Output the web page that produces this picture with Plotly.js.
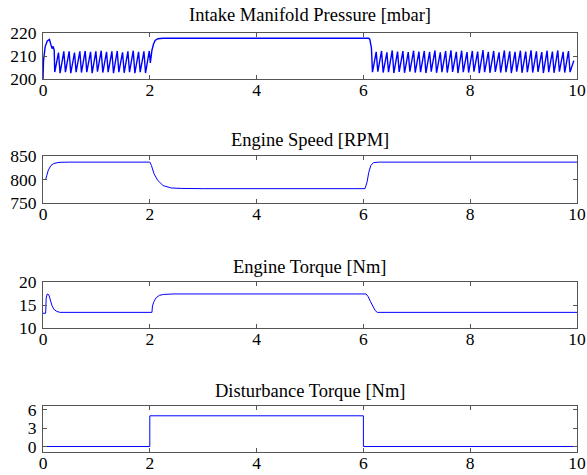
<!DOCTYPE html>
<html>
<head>
<meta charset="utf-8">
<script src="https://cdn.plot.ly/plotly-3.0.1.min.js"></script>
<style>html,body{margin:0;padding:0;background:#fff;}#chart{width:587px;height:475px;}</style>
</head>
<body>
<div id="chart"></div>
<script>
// ---- Data ----
const titles = ["Intake Manifold Pressure [mbar]", "Engine Speed [RPM]", "Engine Torque [Nm]", "Disturbance Torque [Nm]"];
const xTicks = [0, 2, 4, 6, 8, 10];
const pressTicks = [200, 210, 220];
const speedTicks = [750, 800, 850];
const torqueTicks = [10, 15, 20];
const distTicks = [0, 3, 6];

const pressT = [
  0, 0.01, 0.04, 0.08, 0.12, 0.14, 0.17, 0.19, 0.21,
  0.22, 0.29, 0.32, 0.39, 0.42, 0.49, 0.52, 0.59, 0.62, 0.69, 0.72, 0.79, 0.82, 0.89, 0.92, 0.99,
  1.02, 1.09, 1.12, 1.19, 1.22, 1.29, 1.32, 1.39, 1.42, 1.49, 1.52, 1.59, 1.62, 1.69, 1.72, 1.79,
  1.82, 1.89, 1.92, 1.99,
  2.01, 2.04, 2.07, 2.10, 2.15, 2.25, 4.0, 6.10, 6.12, 6.13, 6.15, 6.17,
  6.24, 6.27, 6.34, 6.37, 6.44, 6.47, 6.54, 6.57, 6.64, 6.67, 6.74, 6.77, 6.84, 6.87, 6.94, 6.97,
  7.04, 7.07, 7.14, 7.17, 7.24, 7.27, 7.34, 7.37, 7.44, 7.47, 7.54, 7.57, 7.64, 7.67, 7.74, 7.77,
  7.84, 7.87, 7.94, 7.97, 8.04, 8.07, 8.14, 8.17, 8.24, 8.27, 8.34, 8.37, 8.44, 8.47, 8.54, 8.57,
  8.64, 8.67, 8.74, 8.77, 8.84, 8.87, 8.94, 8.97, 9.04, 9.07, 9.14, 9.17, 9.24, 9.27, 9.34, 9.37,
  9.44, 9.47, 9.54, 9.57, 9.64, 9.67, 9.74, 9.77, 9.84, 9.87, 9.94, 9.97, 10.0
];
const pressV = [
  200, 208, 214, 216.5, 217.2, 215.5, 213.2, 214.2, 212.5,
  203.0, 211.5, 202.5, 212.0, 203.0, 212.0, 202.5, 211.5, 203.0, 212.0, 202.8, 212.2, 203.0, 211.8, 202.5, 212.0,
  203.2, 212.3, 202.8, 211.8, 203.0, 212.0, 202.5, 212.2, 203.0, 211.6, 202.7, 212.0, 203.0, 212.3, 202.5, 211.8,
  203.0, 212.0, 202.6, 212.2,
  207.0, 212.5, 215.2, 216.8, 217.5, 217.7, 217.7, 217.7, 217.2, 216.0, 213.5, 203.0,
  211.8, 203.2, 212.2, 202.8, 211.6, 203.0, 212.4, 202.6, 211.9, 203.1, 212.1, 202.7, 211.7, 203.2, 212.3,
  202.8, 211.9, 203.0, 212.2, 202.6, 211.8, 203.2, 212.4, 202.7, 211.6, 203.0, 212.1, 202.8, 212.5, 203.1,
  211.8, 202.6, 212.3, 203.0, 211.7, 202.8, 212.2, 203.2, 211.9, 202.6, 212.6, 203.0, 211.8, 202.7, 212.2,
  203.1, 211.6, 202.8, 212.4, 203.0, 212.0, 202.6, 211.8, 203.2, 212.3, 202.7, 211.9, 203.0, 212.5, 202.8,
  212.0, 203.1, 211.7, 202.6, 212.3, 203.0, 211.9, 202.7, 212.4, 203.2, 211.8, 202.8, 212.1, 203.0, 208.0
];

const speedT = [0, 0.05, 0.07, 0.1, 0.15, 0.2, 0.3, 0.5, 2.0, 2.03, 2.08, 2.15, 2.25, 2.4, 2.6, 3.0, 6.03, 6.07, 6.1, 6.14, 6.19, 6.3, 10];
const speedV = [800, 800, 808, 820, 830, 834, 836.5, 837, 837, 830, 812, 798, 787, 782, 781, 780.5, 780.5, 795, 815, 830, 836, 837, 837];

const torqueT = [0, 0.05, 0.06, 0.08, 0.11, 0.14, 0.17, 0.21, 0.26, 0.32, 2.04, 2.05, 2.08, 2.12, 2.18, 2.26, 2.45, 6.05, 6.09, 6.13, 6.18, 6.22, 6.26, 10];
const torqueV = [13.2, 13.2, 16.5, 17.4, 17.2, 16.0, 14.8, 14.0, 13.6, 13.4, 13.4, 14.8, 15.8, 16.6, 17.1, 17.3, 17.4, 17.4, 16.8, 15.8, 14.6, 13.8, 13.4, 13.4];

const distT = [0, 2, 2, 6, 6, 10];
const distV = [0, 0, 5, 5, 0, 0];

// ---- Build the figure ----
const blue = '#0000ff';
const serif = 'Liberation Serif';
const H = 475;
const boxes = [[33, 79], [156, 203], [282, 328], [406, 452]]; // pixel top/bottom of each plot area
const titleY = [15, 140, 267, 391];
const yRanges = [[200, 220], [750, 850], [10, 20], [-0.9, 6.6]];
const yTickSets = [pressTicks, speedTicks, torqueTicks, distTicks];
const series = [[pressT, pressV, 1.4], [speedT, speedV, 1], [torqueT, torqueV, 1], [distT, distV, 1]];

const data = series.map((s, i) => ({
  x: s[0], y: s[1], type: 'scatter', mode: 'lines',
  line: {color: blue, width: s[2]},
  xaxis: i === 0 ? 'x' : 'x' + (i + 1),
  yaxis: i === 0 ? 'y' : 'y' + (i + 1),
  hoverinfo: 'skip'
}));

const layout = {
  width: 587, height: 475,
  margin: {l: 43, r: 10, t: 0, b: 0, pad: 0},
  paper_bgcolor: '#fff', plot_bgcolor: '#fff',
  showlegend: false,
  font: {family: serif, size: 17.5, color: '#000'},
  annotations: []
};

const axisCommon = {
  showline: true, mirror: 'ticks', linecolor: '#555', linewidth: 1,
  ticks: 'inside', ticklen: 4, tickcolor: '#555', tickwidth: 1,
  showgrid: false, zeroline: false, fixedrange: true,
  tickfont: {family: serif, size: 17.5, color: '#000'}
};

boxes.forEach((b, i) => {
  const sfx = i === 0 ? '' : String(i + 1);
  layout['xaxis' + sfx] = Object.assign({}, axisCommon, {
    domain: [0, 1], range: [0, 10], tickvals: xTicks, ticktext: xTicks.map(String),
    anchor: 'y' + sfx, ticklabelstandoff: -5
  });
  layout['yaxis' + sfx] = Object.assign({}, axisCommon, {
    domain: [1 - b[1] / H, 1 - b[0] / H], range: yRanges[i],
    tickvals: yTickSets[i], ticktext: yTickSets[i].map(String),
    anchor: 'x' + sfx, ticklabelstandoff: 2
  });
  layout.annotations.push({
    text: titles[i], xref: 'paper', yref: 'paper', x: 0.5, y: 1 - titleY[i] / H,
    xanchor: 'center', yanchor: 'middle', showarrow: false,
    font: {family: serif, size: 18.5, color: '#000'}
  });
});

Plotly.newPlot('chart', data, layout, {displayModeBar: false, staticPlot: true});
</script>
</body>
</html>
